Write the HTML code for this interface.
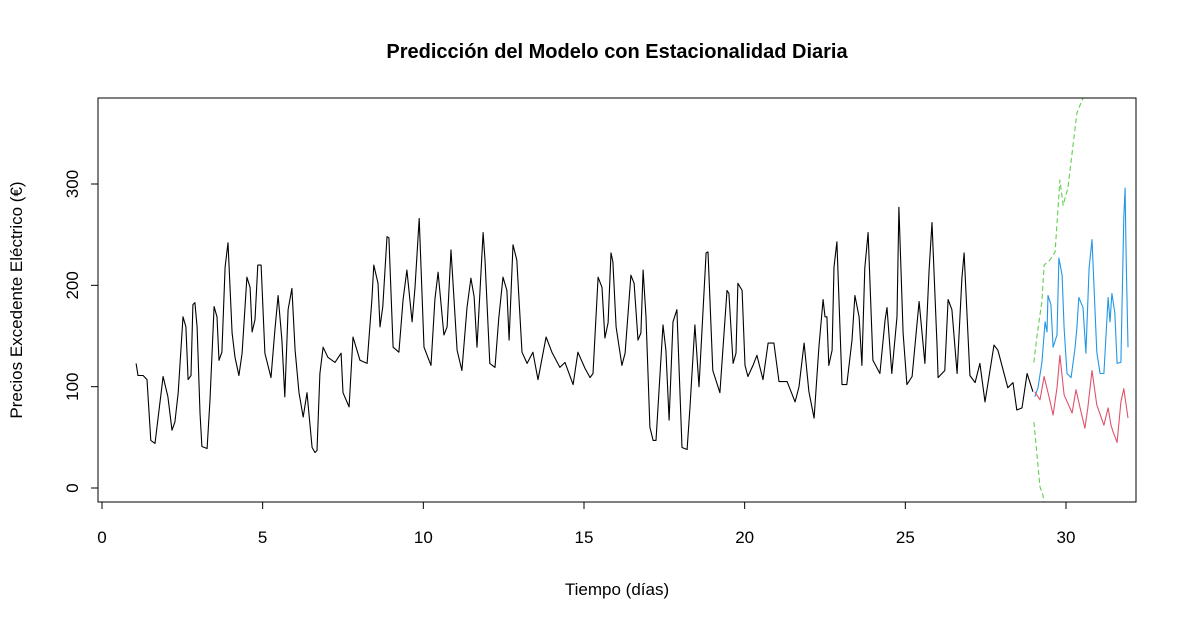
<!DOCTYPE html>
<html><head><meta charset="utf-8"><style>
body{margin:0;background:#fff;}
svg{display:block;font-family:"Liberation Sans",Arial,sans-serif;}
</style></head><body>
<svg id="chart" width="1187" height="626">
<rect width="1187" height="626" fill="#fff"/>
<text x="617" y="58" text-anchor="middle" font-size="20" font-weight="bold">Predicción del Modelo con Estacionalidad Diaria</text>
<text x="617" y="595" text-anchor="middle" font-size="17">Tiempo (días)</text>
<text transform="translate(22,300) rotate(-90)" text-anchor="middle" font-size="17">Precios Excedente Eléctrico (€)</text>
<defs><clipPath id="pc"><rect x="98" y="98" width="1038" height="404"/></clipPath></defs>
<g id="axes"></g>
<g id="series" clip-path="url(#pc)"></g>
<rect x="98" y="98" width="1038" height="404" fill="none" stroke="#000" stroke-width="1"/>
</svg>
<script>
const xTicks=[0,5,10,15,20,25,30];
const yTicks=[0,100,200,300];
const obsDays=[1.06,1.12,1.28,1.40,1.52,1.65,1.90,2.05,2.18,2.27,2.37,2.52,2.61,2.68,2.77,2.83,2.89,2.96,3.05,3.11,3.27,3.36,3.49,3.58,3.64,3.73,3.83,3.92,4.05,4.14,4.26,4.36,4.51,4.61,4.67,4.76,4.85,4.95,5.07,5.26,5.38,5.48,5.60,5.69,5.79,5.91,6.01,6.13,6.26,6.38,6.54,6.63,6.69,6.78,6.88,7.03,7.25,7.44,7.50,7.69,7.81,8.03,8.25,8.40,8.46,8.59,8.65,8.74,8.87,8.93,9.06,9.24,9.37,9.49,9.65,9.74,9.87,10.02,10.24,10.36,10.46,10.64,10.74,10.86,11.05,11.20,11.36,11.48,11.58,11.67,11.86,11.92,12.07,12.23,12.35,12.48,12.60,12.67,12.79,12.91,13.07,13.23,13.41,13.57,13.82,14.00,14.25,14.41,14.66,14.81,15.03,15.19,15.28,15.44,15.56,15.65,15.75,15.84,15.90,16.00,16.18,16.28,16.46,16.56,16.68,16.77,16.84,16.93,17.05,17.15,17.24,17.46,17.55,17.65,17.77,17.89,18.05,18.21,18.30,18.45,18.58,18.80,18.86,19.01,19.23,19.45,19.51,19.64,19.73,19.79,19.92,20.01,20.10,20.26,20.38,20.57,20.73,20.91,21.07,21.32,21.57,21.69,21.85,22.00,22.16,22.31,22.44,22.50,22.56,22.62,22.72,22.78,22.87,23.03,23.18,23.34,23.43,23.56,23.65,23.74,23.84,23.99,24.21,24.37,24.43,24.58,24.74,24.80,24.93,25.05,25.21,25.36,25.43,25.61,25.74,25.83,25.99,26.02,26.23,26.33,26.45,26.61,26.76,26.83,27.01,27.17,27.32,27.48,27.76,27.88,28.19,28.35,28.47,28.63,28.79,28.97];
const obsVals=[123,111,111,107,47,44,110,90,57,65,94,169,159,107,111,181,183,159,74,41,39,87,179,169,126,134,218,242,153,129,111,133,208,198,154,166,220,220,133,109,156,190,146,90,176,197,136,94,70,94,40,35,37,113,139,129,124,133,94,80,149,126,123,186,220,202,159,179,248,247,139,134,186,215,164,198,266,139,121,186,213,151,159,235,136,116,178,207,189,139,252,225,123,119,168,208,195,146,240,225,134,123,134,107,149,134,119,124,102,134,118,109,113,208,198,148,163,232,223,159,121,133,210,202,146,153,215,169,60,47,47,161,136,67,164,176,40,38,80,161,100,232,233,116,94,195,192,123,133,202,195,121,110,121,131,107,143,143,105,105,85,100,143,95,69,139,186,169,169,121,136,218,243,102,102,146,190,169,121,217,252,126,113,166,178,113,169,277,153,102,110,161,184,123,215,262,139,109,116,186,176,113,207,232,111,104,123,85,141,136,99,104,77,79,113,95];
const fcDays=[29.03,29.13,29.25,29.35,29.41,29.44,29.53,29.60,29.72,29.78,29.88,29.94,30.03,30.16,30.28,30.34,30.40,30.53,30.62,30.72,30.81,30.96,31.06,31.18,31.31,31.37,31.43,31.52,31.59,31.71,31.80,31.84,31.87,31.93];
const fcVals=[90,99,124,164,154,190,181,139,151,227,210,158,113,109,138,158,188,178,133,217,245,134,113,113,188,164,192,173,123,124,267,296,230,139];
const redDays=[29.03,29.19,29.32,29.47,29.60,29.72,29.81,29.94,30.19,30.31,30.44,30.59,30.68,30.81,30.96,31.18,31.31,31.40,31.46,31.59,31.71,31.80,31.93];
const redVals=[95,87,110,90,72,99,131,92,74,97,79,59,79,116,82,62,79,62,56,45,85,98,69];
const upDays=[29.00,29.10,29.25,29.32,29.50,29.66,29.81,29.91,30.06,30.34,30.53,30.9];
const upVals=[124,151,184,220,225,233,304,279,296,370,385,420];
const loDays=[29.00,29.19,29.28,29.38];
const loVals=[65,1,-7,-25];

const NS="http://www.w3.org/2000/svg";
function xs(d){return 102+d*32.133;}
function ys(v){return 488-v*1.0133;}
const axes=document.getElementById('axes');
const series=document.getElementById('series');
function mk(tag,attrs,parent){const e=document.createElementNS(NS,tag);for(const k in attrs)e.setAttribute(k,attrs[k]);parent.appendChild(e);return e;}
// x axis
let xl=mk('line',{x1:xs(xTicks[0]),x2:xs(xTicks[xTicks.length-1]),y1:502,y2:502,stroke:'#000'},axes);


xTicks.forEach(t=>{
  const l=mk('line',{x1:xs(t),x2:xs(t),y1:502,y2:509,stroke:'#000'},axes);
  
  
  const tx=mk('text',{x:xs(t),y:543,'text-anchor':'middle','font-size':17},axes);
  tx.textContent=t;
  
  
});
let yl=mk('line',{x1:98,x2:98,y1:ys(yTicks[0]),y2:ys(yTicks[yTicks.length-1]),stroke:'#000'},axes);


yTicks.forEach(t=>{
  const l=mk('line',{x1:91,x2:98,y1:ys(t),y2:ys(t),stroke:'#000'},axes);
  
  
  const tx=mk('text',{transform:`translate(78,${ys(t)}) rotate(-90)`,'text-anchor':'middle','font-size':17},axes);
  tx.textContent=t;
  
  
});
function line(days,vals,color,dash,name){
  const p=days.map((d,i)=>xs(d).toFixed(1)+','+ys(vals[i]).toFixed(1)).join(' ');
  const a={points:p,fill:'none',stroke:color,'stroke-width':1.1,'stroke-linejoin':'round'};
  if(dash)a['stroke-dasharray']=dash;
  const e=mk('polyline',a,series);
  
  
}
line(upDays,upVals,'#61D04F','5,3','upper-bound-line');
line(loDays,loVals,'#61D04F','5,3','lower-bound-line');
line(fcDays,fcVals,'#2297E6',null,'forecast-line');
line(redDays,redVals,'#DF536B',null,'model-fit-line');
line(obsDays,obsVals,'#000',null,'observed-line');
</script>
</body></html>
